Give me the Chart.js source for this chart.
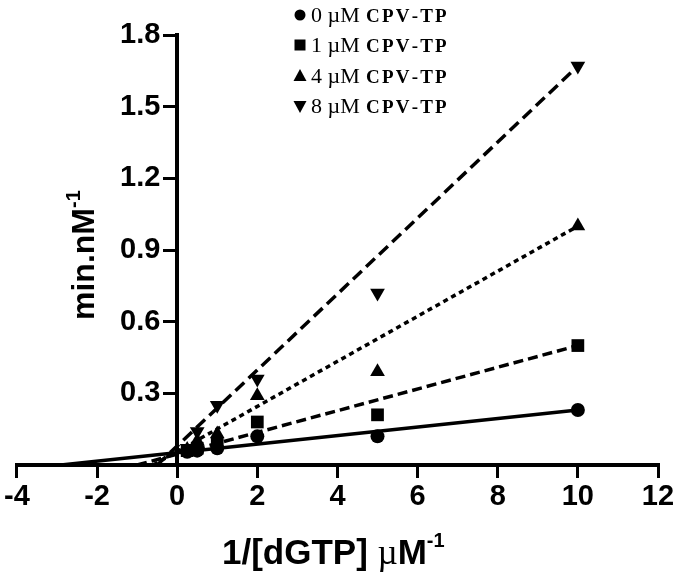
<!DOCTYPE html>
<html>
<head>
<meta charset="utf-8">
<script src="https://cdn.jsdelivr.net/npm/chart.js@4.4.0/dist/chart.umd.min.js"></script>
<style>
html, body { margin: 0; padding: 0; background: #fff; }
#wrap { width: 680px; height: 580px; }
</style>
</head>
<body>
<div id="wrap"><canvas id="myChart" width="680" height="580"></canvas></div>
<script>
// 1/[dGTP] (uM-1) and 1/v (min.nM-1)
const invDGTP = [0.25, 0.5, 1, 2, 5, 10];
const rate0 = [0.055, 0.06, 0.07, 0.12, 0.12, 0.23];
const rate1 = [0.06, 0.07, 0.09, 0.18, 0.21, 0.50];
const rate4 = [0.065, 0.10, 0.13, 0.29, 0.39, 1.00];
const rate8 = [0.07, 0.14, 0.25, 0.36, 0.72, 1.67];

// fitted lines, end points
const fitX0 = [-2.9, 10], fitY0 = [0, 0.23];
const fitX1 = [-1.0, 10], fitY1 = [0, 0.50];
const fitX4 = [-0.6, 10], fitY4 = [0, 1.00];
const fitX8 = [-0.5, 10], fitY8 = [0, 1.67];

const legendConc = ['0', '1', '4', '8'];
const xTicks = [-4, -2, 0, 2, 4, 6, 8, 10, 12];
const yTicks = [0.3, 0.6, 0.9, 1.2, 1.5, 1.8];

function pts(xs, ys) {
    return xs.map(function (x, i) { return {x: x, y: ys[i]}; });
}

const sans = "'Liberation Sans', Arial, sans-serif";
const serif = "'Liberation Serif', 'Times New Roman', serif";

const estilos = [
    {style: 'circle', r: 7, rot: 0, dash: []},
    {style: 'rect', r: 9, rot: 0, dash: [10, 5]},
    {style: 'triangle', r: 8.5, rot: 0, dash: [5, 4]},
    {style: 'triangle', r: 8.5, rot: 180, dash: [12, 6]}
];
const series = [rate0, rate1, rate4, rate8];
const fits = [[fitX0, fitY0], [fitX1, fitY1], [fitX4, fitY4], [fitX8, fitY8]];

const datasets = [];
series.forEach(function (s, i) {
    datasets.push({
        label: legendConc[i] + ' \u00b5M CPV-TP',
        data: pts(invDGTP, s),
        showLine: false,
        pointStyle: estilos[i].style,
        rotation: estilos[i].rot,
        pointRadius: estilos[i].r,
        backgroundColor: '#000',
        borderColor: '#000',
        borderWidth: 0,
        order: 0
    });
});
fits.forEach(function (f, i) {
    datasets.push({
        label: 'fit ' + legendConc[i],
        data: pts(f[0], f[1]),
        showLine: true,
        pointRadius: 0,
        borderColor: '#000',
        borderWidth: 3.5,
        borderDash: estilos[i].dash,
        borderCapStyle: 'butt',
        fill: false,
        order: 1
    });
});

// legend + axis titles with superscripts
const textosPlugin = {
    id: 'textos',
    afterDraw: function (chart) {
        const ctx = chart.ctx;
        ctx.save();
        ctx.fillStyle = '#000';
        // legend
        const ly = [15, 45, 76, 106];
        legendConc.forEach(function (c, i) {
            const y = ly[i];
            const x = 300;
            ctx.beginPath();
            if (i === 0) {
                ctx.arc(x, y, 5.5, 0, Math.PI * 2);
            } else if (i === 1) {
                ctx.rect(x - 5.5, y - 5.5, 11, 11);
            } else if (i === 2) {
                ctx.moveTo(x, y - 7); ctx.lineTo(x + 6.5, y + 5); ctx.lineTo(x - 6.5, y + 5);
            } else {
                ctx.moveTo(x, y + 7); ctx.lineTo(x + 6.5, y - 5); ctx.lineTo(x - 6.5, y - 5);
            }
            ctx.closePath();
            ctx.fill();
            ctx.textBaseline = 'alphabetic';
            ctx.textAlign = 'left';
            ctx.font = '22px ' + serif;
            ctx.fillText(c + ' \u00b5M', 311, y + 7);
            ctx.font = 'bold 19px ' + serif;
            let tx = 366;
            'CPV-TP'.split('').forEach(function (ch) {
                ctx.fillText(ch, tx, y + 7);
                tx += ctx.measureText(ch).width + 2.2;
            });
        });

        // x title
        ctx.textBaseline = 'alphabetic';
        ctx.textAlign = 'left';
        let x = 222;
        const by = 564;
        ctx.font = 'bold 35px ' + sans;
        ctx.fillText('1/[dGTP]', x, by);
        x += ctx.measureText('1/[dGTP] ').width;
        ctx.font = '35px ' + serif;
        ctx.fillText('\u00b5', x, by);
        x += ctx.measureText('\u00b5').width;
        ctx.font = 'bold 35px ' + sans;
        ctx.fillText('M', x, by);
        x += ctx.measureText('M').width;
        ctx.font = 'bold 20px ' + sans;
        ctx.fillText('-1', x, by - 17);

        // y title
        ctx.translate(94, 320);
        ctx.rotate(-Math.PI / 2);
        ctx.font = 'bold 32px ' + sans;
        ctx.fillText('min.nM', 0, 0);
        const w = ctx.measureText('min.nM').width;
        ctx.font = 'bold 20px ' + sans;
        ctx.fillText('-1', w, -14);
        ctx.restore();
    }
};

const tickFont = {family: sans, size: 29, weight: 'bold'};

const ctx = document.getElementById('myChart');
const myChart = new Chart(ctx, {
    type: 'scatter',
    data: {datasets: datasets},
    options: {
        responsive: false,
        animation: false,
        devicePixelRatio: 1,
        layout: {padding: {left: 14, right: 22, top: 35, bottom: 115}},
        plugins: {
            legend: {display: false},
            tooltip: {enabled: false},
            title: {display: false}
        },
        scales: {
            x: {
                type: 'linear',
                min: -4,
                max: 12,
                position: {y: 0},
                afterBuildTicks: function (scale) {
                    scale.ticks = xTicks.map(function (v) { return {value: v}; });
                },
                border: {display: true, color: '#000', width: 4},
                grid: {drawOnChartArea: false, drawTicks: true, tickLength: 11, color: '#000', lineWidth: 3},
                ticks: {
                    color: '#000',
                    padding: 4,
                    maxRotation: 0,
                    autoSkip: false,
                    font: tickFont,
                    callback: function (v) { return String(v); }
                }
            },
            y: {
                type: 'linear',
                min: 0,
                max: 1.8,
                position: {x: 0},
                afterBuildTicks: function (scale) {
                    scale.ticks = yTicks.map(function (v) { return {value: v}; });
                },
                border: {display: true, color: '#000', width: 4},
                grid: {drawOnChartArea: false, drawTicks: true, tickLength: 12, color: '#000', lineWidth: 3},
                ticks: {display: false}
            },
            // label column of the y axis, just left of the tick marks
            yLab: {
                type: 'linear',
                axis: 'y',
                min: 0,
                max: 1.8,
                position: {x: -0.42},
                afterBuildTicks: function (scale) {
                    scale.ticks = yTicks.map(function (v) { return {value: v}; });
                },
                border: {display: false},
                grid: {display: false},
                ticks: {
                    color: '#000',
                    font: tickFont,
                    callback: function (v) { return Number(v).toFixed(1); }
                }
            }
        }
    },
    plugins: [textosPlugin]
});
</script>
</body>
</html>
